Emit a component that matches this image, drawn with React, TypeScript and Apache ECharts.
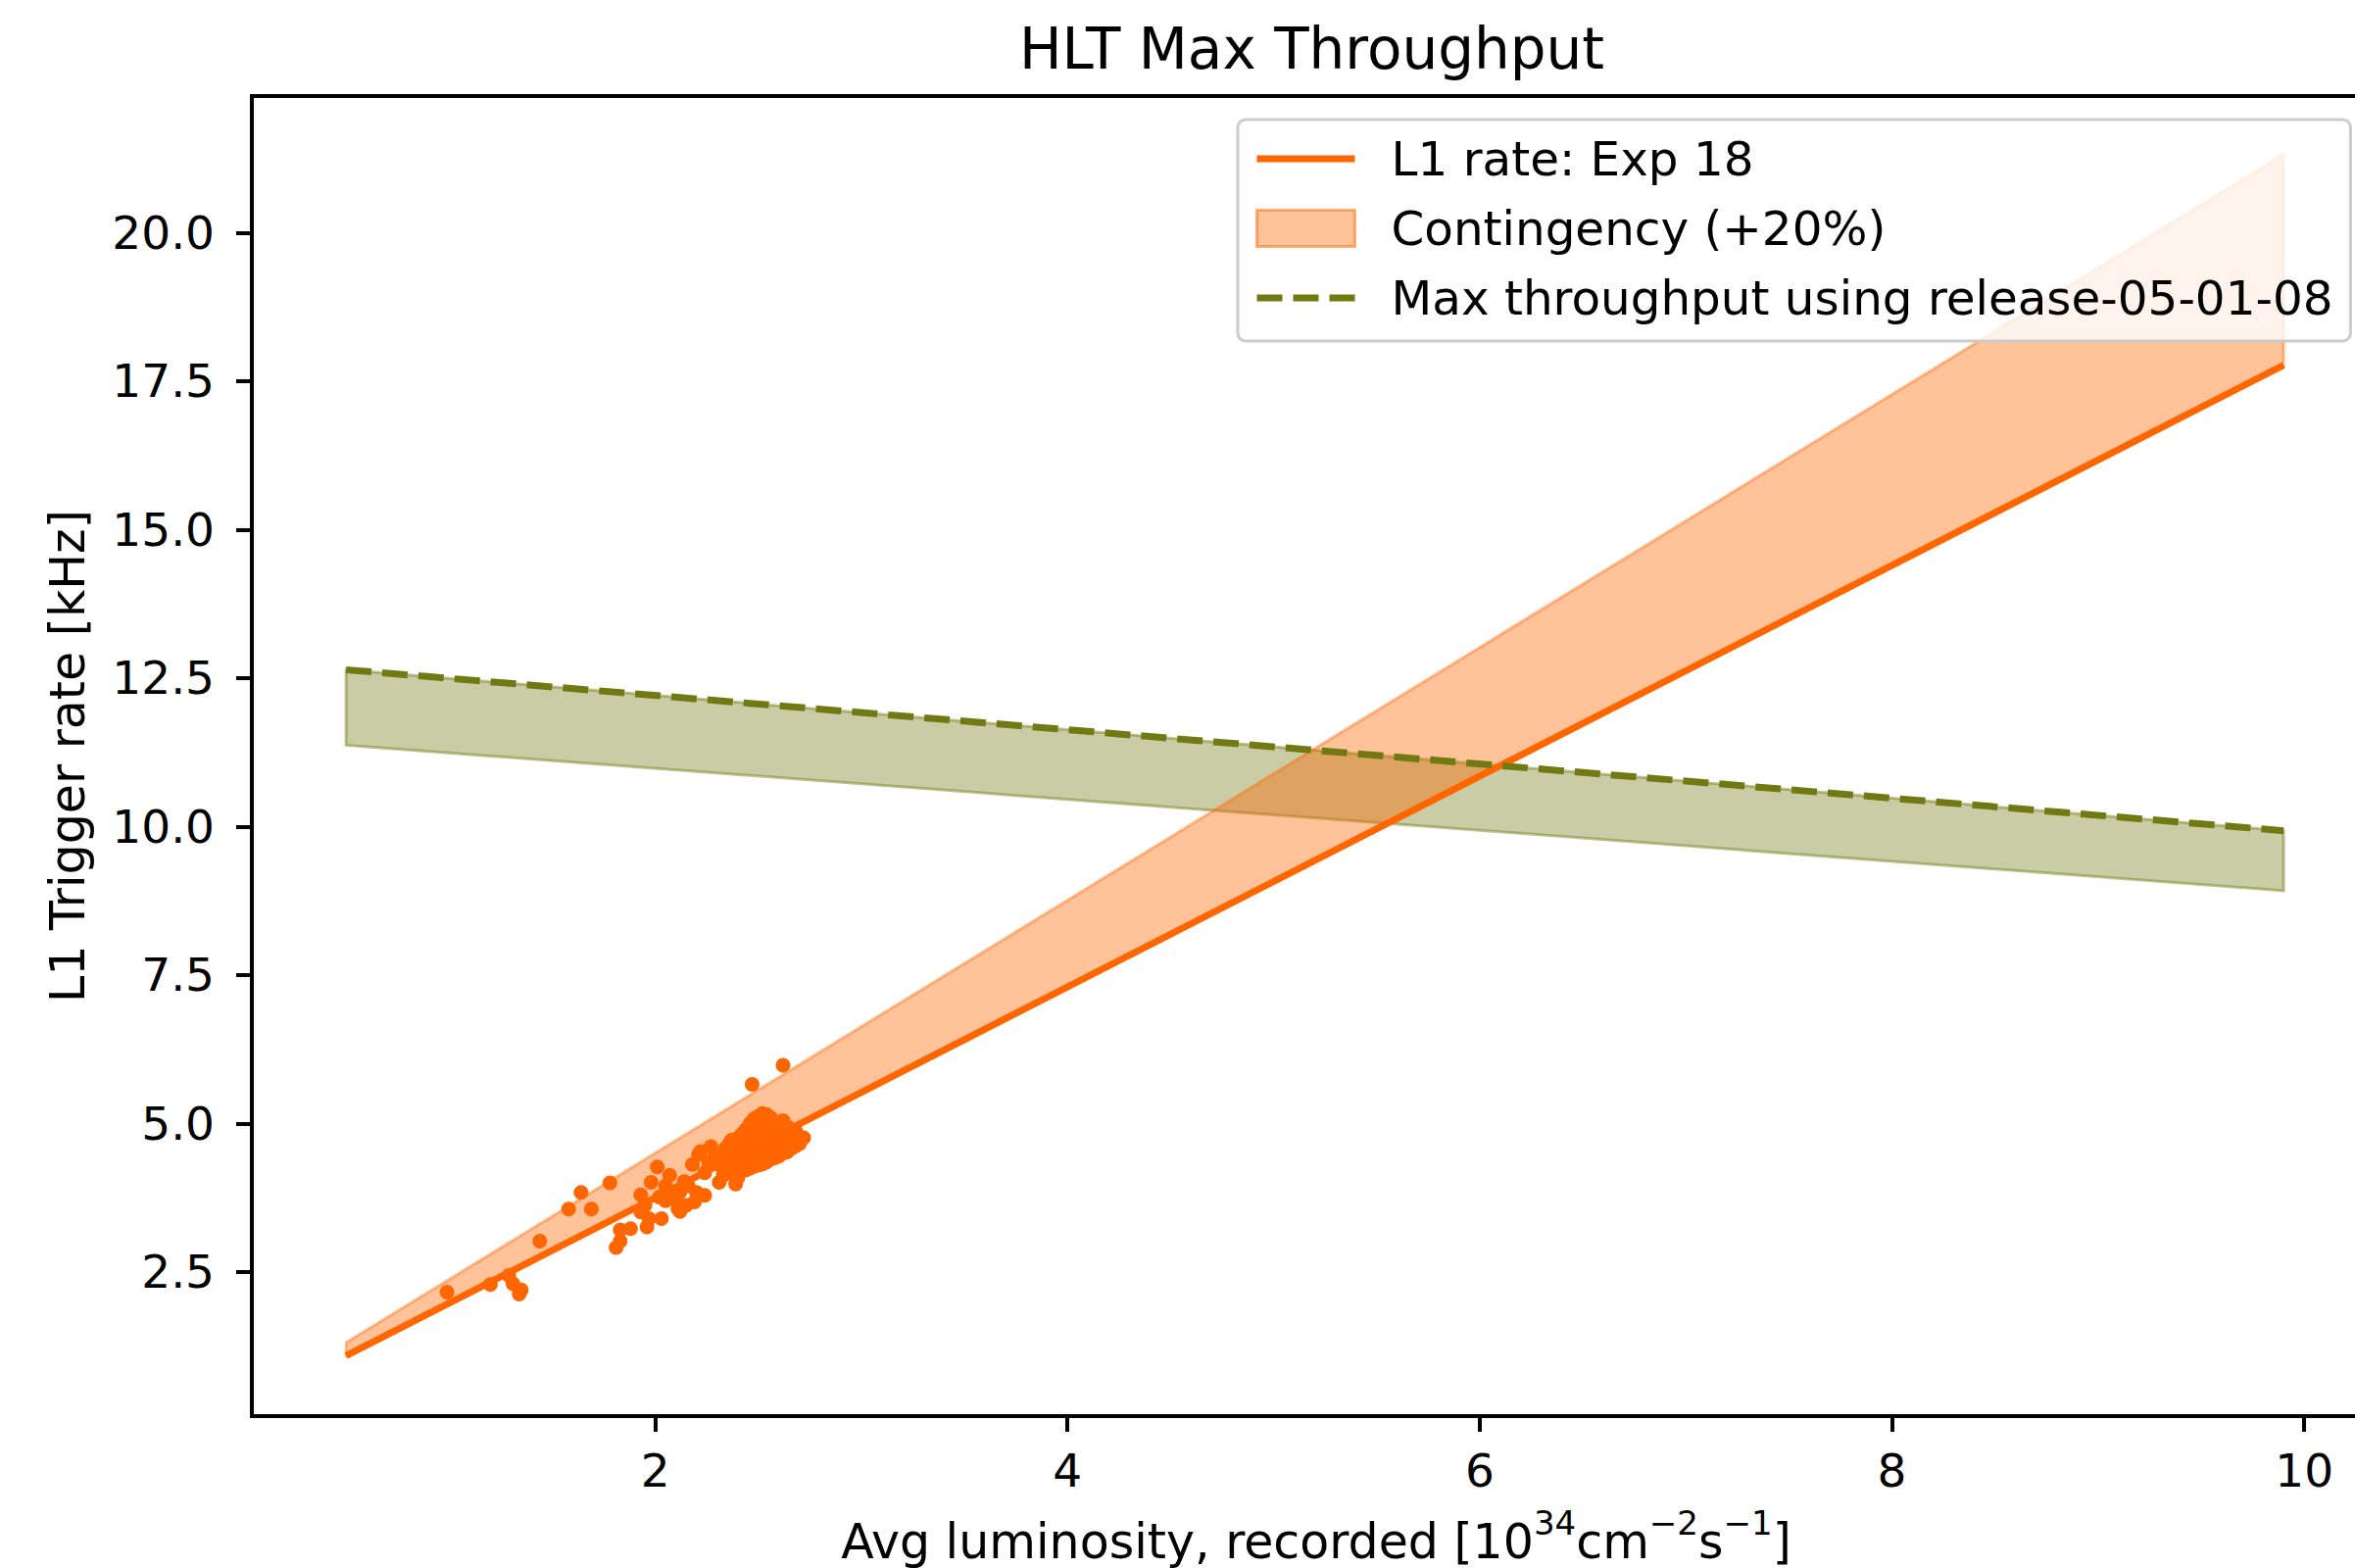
import React, { useEffect, useRef } from "react";
import * as echarts from "echarts";

// ---- data ----
const lineX = [0.5, 9.9];
const l1Rate = [1.09, 17.77];
const contingencyUpper = [1.31, 21.32];
const maxThroughput = [12.64, 9.93];
const maxThroughputLower = [11.37, 8.92];

const xTicks = [2, 4, 6, 8, 10];
const yTicks = [2.5, 5, 7.5, 10, 12.5, 15, 17.5, 20];

const measuredPoints: [number, number][] = [
  [0.99, 2.16], [1.2, 2.29], [1.29, 2.44], [1.31, 2.3], [1.35, 2.2], [1.34, 2.13],
  [1.44, 3.02], [1.58, 3.56], [1.64, 3.84], [1.69, 3.56], [1.78, 4.0],
  [1.81, 2.91], [1.83, 3.02], [1.83, 3.21], [1.88, 3.23],
  [1.93, 3.8], [1.95, 3.62], [1.93, 3.51], [1.96, 3.26], [1.97, 3.4], [1.98, 4.01],
  [2.01, 4.27], [2.07, 4.13], [2.03, 3.4], [2.02, 3.76], [2.07, 3.82], [2.11, 3.57],
  [2.15, 3.62], [2.1, 3.73], [2.14, 4.02], [2.18, 4.31], [2.22, 4.53], [2.27, 4.61],
  [2.26, 4.34], [2.24, 4.17], [2.2, 3.84], [2.24, 3.79], [2.19, 3.68], [2.31, 4.01],
  [2.33, 4.12], [2.32, 4.28], [2.39, 3.98], [2.37, 4.72], [2.4, 4.75],
  [2.08, 3.84], [2.05, 3.7], [2.12, 3.52], [2.21, 4.48], [2.29, 4.45], [2.16, 3.95],
  [2.05, 3.95], [2.12, 3.85],
  [2.47, 5.66], [2.62, 5.98],
  [2.34, 4.4], [2.34, 4.58],
  [2.36, 4.3], [2.36, 4.5], [2.36, 4.66],
  [2.38, 4.15], [2.38, 4.4], [2.38, 4.6], [2.38, 4.72],
  [2.4, 4.08], [2.4, 4.28], [2.4, 4.5], [2.4, 4.68],
  [2.42, 4.2], [2.42, 4.42], [2.42, 4.62], [2.42, 4.82],
  [2.44, 4.22], [2.44, 4.35], [2.44, 4.55], [2.44, 4.75], [2.44, 4.9],
  [2.46, 4.25], [2.46, 4.48], [2.46, 4.68], [2.46, 4.85], [2.46, 5.0],
  [2.48, 4.28], [2.48, 4.4], [2.48, 4.6], [2.48, 4.8], [2.48, 4.98], [2.48, 5.08],
  [2.5, 4.3], [2.5, 4.52], [2.5, 4.72], [2.5, 4.92], [2.5, 5.12],
  [2.52, 4.32], [2.52, 4.45], [2.52, 4.65], [2.52, 4.85], [2.52, 5.05], [2.52, 5.17],
  [2.54, 4.35], [2.54, 4.58], [2.54, 4.78], [2.54, 4.98], [2.54, 5.15],
  [2.56, 4.4], [2.56, 4.5], [2.56, 4.7], [2.56, 4.9], [2.56, 5.1],
  [2.58, 4.42], [2.58, 4.62], [2.58, 4.82], [2.58, 5.02],
  [2.6, 4.45], [2.6, 4.55], [2.6, 4.75], [2.6, 4.95], [2.6, 5.02],
  [2.62, 4.5], [2.62, 4.68], [2.62, 4.88], [2.62, 5.05],
  [2.64, 4.52], [2.64, 4.62], [2.64, 4.8], [2.64, 4.95],
  [2.66, 4.58], [2.66, 4.72], [2.66, 4.9],
  [2.68, 4.62], [2.68, 4.8], [2.68, 4.88],
  [2.7, 4.66], [2.7, 4.78],
  [2.72, 4.76],
];

const FONT = "DejaVu Sans";
const ORANGE = "#ff6600";
const OLIVE = "#717a12";

function bandSeries(name: string | undefined, lower: number[], upper: number[], fill: string, stroke: string) {
  return {
    type: "custom",
    name,
    silent: true,
    data: lineX.map((x, i) => [x, lower[i], upper[i]]),
    encode: { x: 0, y: [1, 2] },
    renderItem: (params: any, api: any) => {
      if (params.dataIndex !== 0) return null;
      const top = lineX.map((x, i) => api.coord([x, upper[i]]));
      const bottom = lineX.map((x, i) => api.coord([x, lower[i]])).reverse();
      return {
        type: "polygon",
        shape: { points: [...top, ...bottom] },
        style: { fill, stroke, lineWidth: 3 },
      };
    },
  };
}

export default function App() {
  const ref = useRef<HTMLDivElement>(null);

  useEffect(() => {
    const chart = echarts.init(ref.current!, null, { renderer: "svg" });
    const option: any = {
      animation: false,
      backgroundColor: "#ffffff",
      title: {
        text: "HLT Max Throughput",
        left: 1040,
        top: 21,
        padding: 0,
        textStyle: { fontFamily: FONT, fontSize: 58, fontWeight: "normal", color: "#000", lineHeight: 58 },
      },
      grid: {
        left: 257,
        top: 98,
        right: -26,
        bottom: 155,
        containLabel: false,
        outerBoundsMode: "none",
        show: true,
        borderColor: "#000",
        borderWidth: 4,
        backgroundColor: "transparent",
      },
      legend: {
        left: 1263,
        top: 122,
        orient: "vertical",
        selectedMode: false,
        symbolKeepAspect: true,
        data: [
          {
            name: "L1 rate: Exp 18",
            icon: "path://M0,0H100V7H0Z",
            itemStyle: { color: ORANGE, borderWidth: 0 },
          },
          {
            name: "Contingency (+20%)",
            icon: "rect",
            itemStyle: { color: "rgba(255,102,0,0.4)", borderColor: "rgba(255,102,0,0.5)", borderWidth: 3 },
          },
          {
            name: "Max throughput using release-05-01-08",
            icon: "path://M0,0H26V7H0Z M37,0H63V7H37Z M74,0H100V7H74Z",
            itemStyle: { color: OLIVE, borderWidth: 0 },
          },
        ],
        itemWidth: 100,
        itemHeight: 37,
        itemGap: 15,
        backgroundColor: "rgba(255,255,255,0.8)",
        borderColor: "#cccccc",
        borderWidth: 3,
        borderRadius: 8,
        padding: [12, 18, 16, 18],
        textStyle: { fontFamily: FONT, fontSize: 48.4, color: "#000", lineHeight: 56, padding: [0, 0, 0, 32] },
      },
      xAxis: {
        type: "value",
        min: 0.043,
        max: 10.37,
        splitLine: { show: false },
        axisLine: { show: true, onZero: false, lineStyle: { color: "#000", width: 4 } },
        axisTick: { show: true, length: 16, customValues: xTicks, lineStyle: { color: "#000", width: 4 } },
        axisLabel: { customValues: xTicks, fontFamily: FONT, fontSize: 47, color: "#000", margin: 32, lineHeight: 47 },
        name: "Avg luminosity, recorded [10{sup|34}cm{sup|\u22122}s{sup|\u22121}]",
        nameLocation: "middle",
        nameGap: 92,
        nameTextStyle: {
          fontFamily: FONT,
          fontSize: 49,
          color: "#000",
          lineHeight: 72,
          rich: {
            sup: { fontFamily: FONT, fontSize: 34, color: "#000", lineHeight: 32, verticalAlign: "top" },
          },
        },
      },
      yAxis: {
        type: "value",
        min: 0.074,
        max: 22.3,
        splitLine: { show: false },
        axisLine: { show: true, onZero: false, lineStyle: { color: "#000", width: 4 } },
        axisTick: { show: true, length: 16, customValues: yTicks, lineStyle: { color: "#000", width: 4 } },
        axisLabel: {
          customValues: yTicks,
          fontFamily: FONT,
          fontSize: 47,
          color: "#000",
          margin: 38,
          formatter: (v: number) => v.toFixed(1),
        },
        name: "L1 Trigger rate [kHz]",
        nameLocation: "middle",
        nameGap: 163,
        nameTextStyle: { fontFamily: FONT, fontSize: 49, color: "#000", lineHeight: 49 },
      },
      series: [
        bandSeries(undefined, maxThroughputLower, maxThroughput, "rgba(113,122,18,0.38)", "rgba(113,122,18,0.45)"),
        bandSeries("Contingency (+20%)", l1Rate, contingencyUpper, "rgba(255,102,0,0.4)", "rgba(255,102,0,0.4)"),
        {
          type: "line",
          name: "L1 rate: Exp 18",
          data: lineX.map((x, i) => [x, l1Rate[i]]),
          symbol: "none",
          lineStyle: { color: ORANGE, width: 7 },
          itemStyle: { color: ORANGE },
        },
        {
          type: "line",
          name: "Max throughput using release-05-01-08",
          data: lineX.map((x, i) => [x, maxThroughput[i]]),
          symbol: "none",
          lineStyle: { color: OLIVE, width: 7, type: [26, 11] },
          itemStyle: { color: OLIVE },
        },
        {
          type: "scatter",
          name: "measured",
          data: measuredPoints,
          symbol: "circle",
          symbolSize: 15,
          itemStyle: { color: ORANGE, opacity: 1 },
        },
      ],
    };
    chart.setOption(option);
    return () => chart.dispose();
  }, []);

  return (
    <div
      ref={ref}
      style={{ position: "fixed", left: 0, top: 0, width: 2403, height: 1600, overflow: "hidden", background: "#fff" }}
    />
  );
}
